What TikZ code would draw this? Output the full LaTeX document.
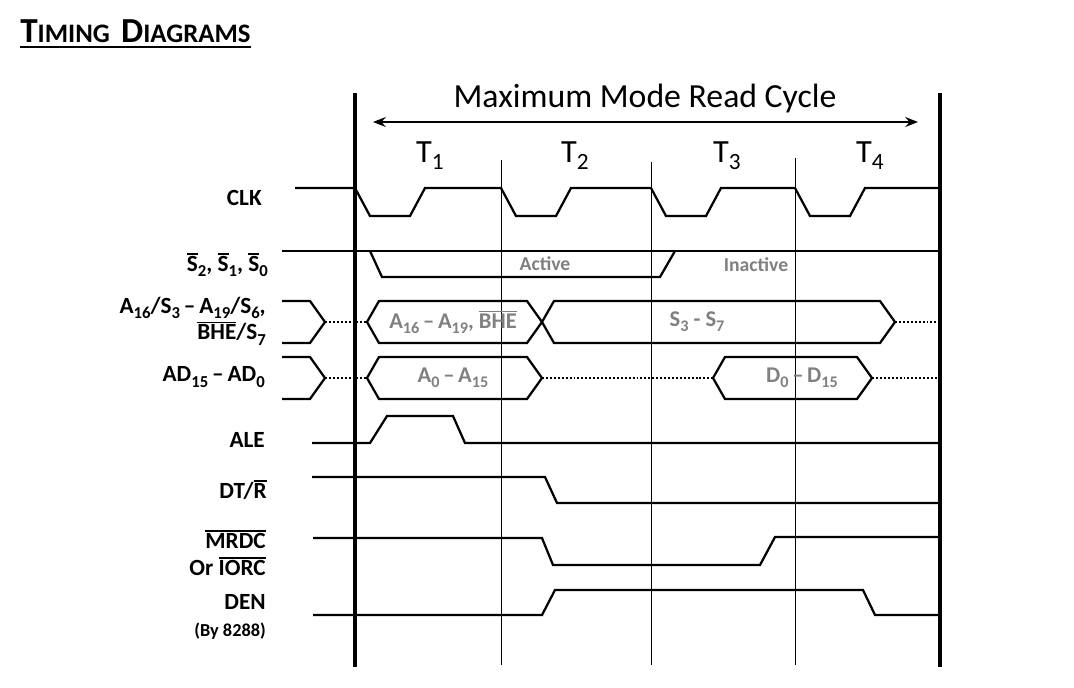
\documentclass[tikz,border=0pt]{standalone}
\usepackage{fontspec}
\setmainfont{Carlito}
\usetikzlibrary{arrows.meta}
\definecolor{bustext}{RGB}{128,128,128}
\newcommand{\ov}[1]{\leavevmode\vbox{\hrule height 1.1pt\kern 1.3pt\hbox{#1}}}
\newcommand{\sub}[1]{\raisebox{-0.45ex}{\scalebox{0.72}{#1}}}

\begin{document}
\begin{tikzpicture}[x=0.025cm, y=-0.025cm,
    sig/.style={line width=1.6pt, line join=miter},
    frame/.style={line width=2.2pt},
    tick/.style={line width=0.7pt},
    dots/.style={line width=1.4pt, dash pattern=on 1.4pt off 1.4pt},
    lbl/.style={anchor=east, align=right, inner sep=0pt, font=\fontsize{16.5}{19}\selectfont\bfseries},
    bustxt/.style={text=bustext, inner sep=0pt, font=\fontsize{16}{18}\selectfont\bfseries},
    phase/.style={text=bustext, inner sep=0pt, font=\fontsize{14}{16}\selectfont\bfseries}]
  \useasboundingbox (0,0) rectangle (1074,687);

  % heading
  \node[anchor=base west, inner sep=0pt, font=\bfseries] (title) at (20,42)
    {{\fontsize{25}{27}\selectfont T}{\fontsize{19}{21}\selectfont IMING}\hspace{8pt}{\fontsize{25}{27}\selectfont D}{\fontsize{19}{21}\selectfont IAGRAMS}};
  \draw[line width=1.3pt] ([yshift=-3.3pt]title.base west) -- ([yshift=-3.3pt]title.base east);

  % cycle limits
  \coordinate (fL1) at (355,93);  \coordinate (fL2) at (355,667);
  \coordinate (fR1) at (940,93);  \coordinate (fR2) at (940,667);
  \draw[frame] (fL1) -- (fL2);
  \draw[frame] (fR1) -- (fR2);
  \foreach \x/\t in {501/160, 651/162, 795/158}
    \draw[tick] (\x,\t) -- (\x,665);

  \coordinate (cycL) at (373,122);
  \coordinate (cycR) at (918,122);
  \draw[line width=1.5pt, {Stealth[length=9pt,width=7pt]}-{Stealth[length=9pt,width=7pt]}] (cycL) -- (cycR);
  \node[font=\fontsize{24}{26}\selectfont] (cyc) at (645,98) {Maximum Mode Read Cycle};

  % T states
  \foreach \n/\x in {1/430, 2/575, 3/727, 4/870}
    \node[font=\fontsize{23}{25}\selectfont] (T\n) at (\x,156) {T\sub{\n}};

  % CLK
  \draw[sig] (295,188) -- (355,188)
    \foreach \s/\e in {355/501, 501/651, 651/795, 795/940}
      { -- (\s+15,216) -- (\s+55,216) -- (\s+70,188) -- (\e,188) };

  % status lines
  \draw[sig] (282,251) -- (940,251);
  \draw[sig] (370,251) -- (382,277) -- (660,277) -- (675,251);
  \node[phase] (act) at (545,264) {Active};
  \node[phase] (inact) at (756,265) {Inactive};

  % bus stubs and dotted float
  \foreach \m in {322, 378} {
    \draw[sig] (282,\m-21) -- (310,\m-21) -- (325,\m) -- (310,\m+21) -- (282,\m+21);
    \draw[dots] (325,\m) -- (367,\m);
  }
  \foreach \l/\r/\m in {367/542/322, 542/895/322, 367/542/378, 713/872/378}
    \draw[sig] (\l,\m) -- (\l+12,\m-21) -- (\r-15,\m-21) -- (\r,\m) -- (\r-15,\m+21) -- (\l+12,\m+21) -- cycle;
  \draw[dots] (895,322) -- (940,322);
  \draw[dots] (542,378) -- (713,378);
  \draw[dots] (872,378) -- (940,378);
  \node[bustxt] (hiA) at (453,322) {A\sub{16}\,--\,A\sub{19}, \ov{BHE}};
  \node[bustxt] (stS) at (697,322) {S\sub{3} - S\sub{7}};
  \node[bustxt] (loA) at (453,378) {A\sub{0}\,--\,A\sub{15}};
  \node[bustxt] (dat) at (802,378) {D\sub{0}\,--\,D\sub{15}};

  % control lines
  \draw[sig] (312,443) -- (370,443) -- (387,416) -- (453,416) -- (465,443) -- (940,443);
  \draw[sig] (312,477) -- (545,477) -- (557,503) -- (938,503);
  \draw[sig] (313,538) -- (542,538) -- (553,565) -- (760,565) -- (775,537) -- (940,537);
  \draw[sig] (313,615) -- (542,615) -- (555,590) -- (863,590) -- (875,615) -- (940,615);

  % signal names
  \node[lbl] (clk) at (262,198) {CLK};
  \node[lbl] (sts) at (268,265) {\ov{S}\sub{2}, \ov{S}\sub{1}, \ov{S}\sub{0}};
  \node[lbl] (adr) at (266,321) {A\sub{16}/S\sub{3}\,--\,A\sub{19}/S\sub{6},\\ \ov{BHE}/S\sub{7}};
  \node[lbl] (ad) at (265,377) {AD\sub{15}\,--\,AD\sub{0}};
  \node[lbl] (ale) at (265,440) {ALE};
  \node[lbl] (dtr) at (267,490) {DT/\ov{R}};
  \node[lbl] (rdc) at (266,553) {\ov{MRDC}\\Or \ov{IORC}};
  \node[lbl] (den) at (266,617) {DEN\\{\fontsize{13}{15}\selectfont (By 8288)}};
\end{tikzpicture}
\end{document}
